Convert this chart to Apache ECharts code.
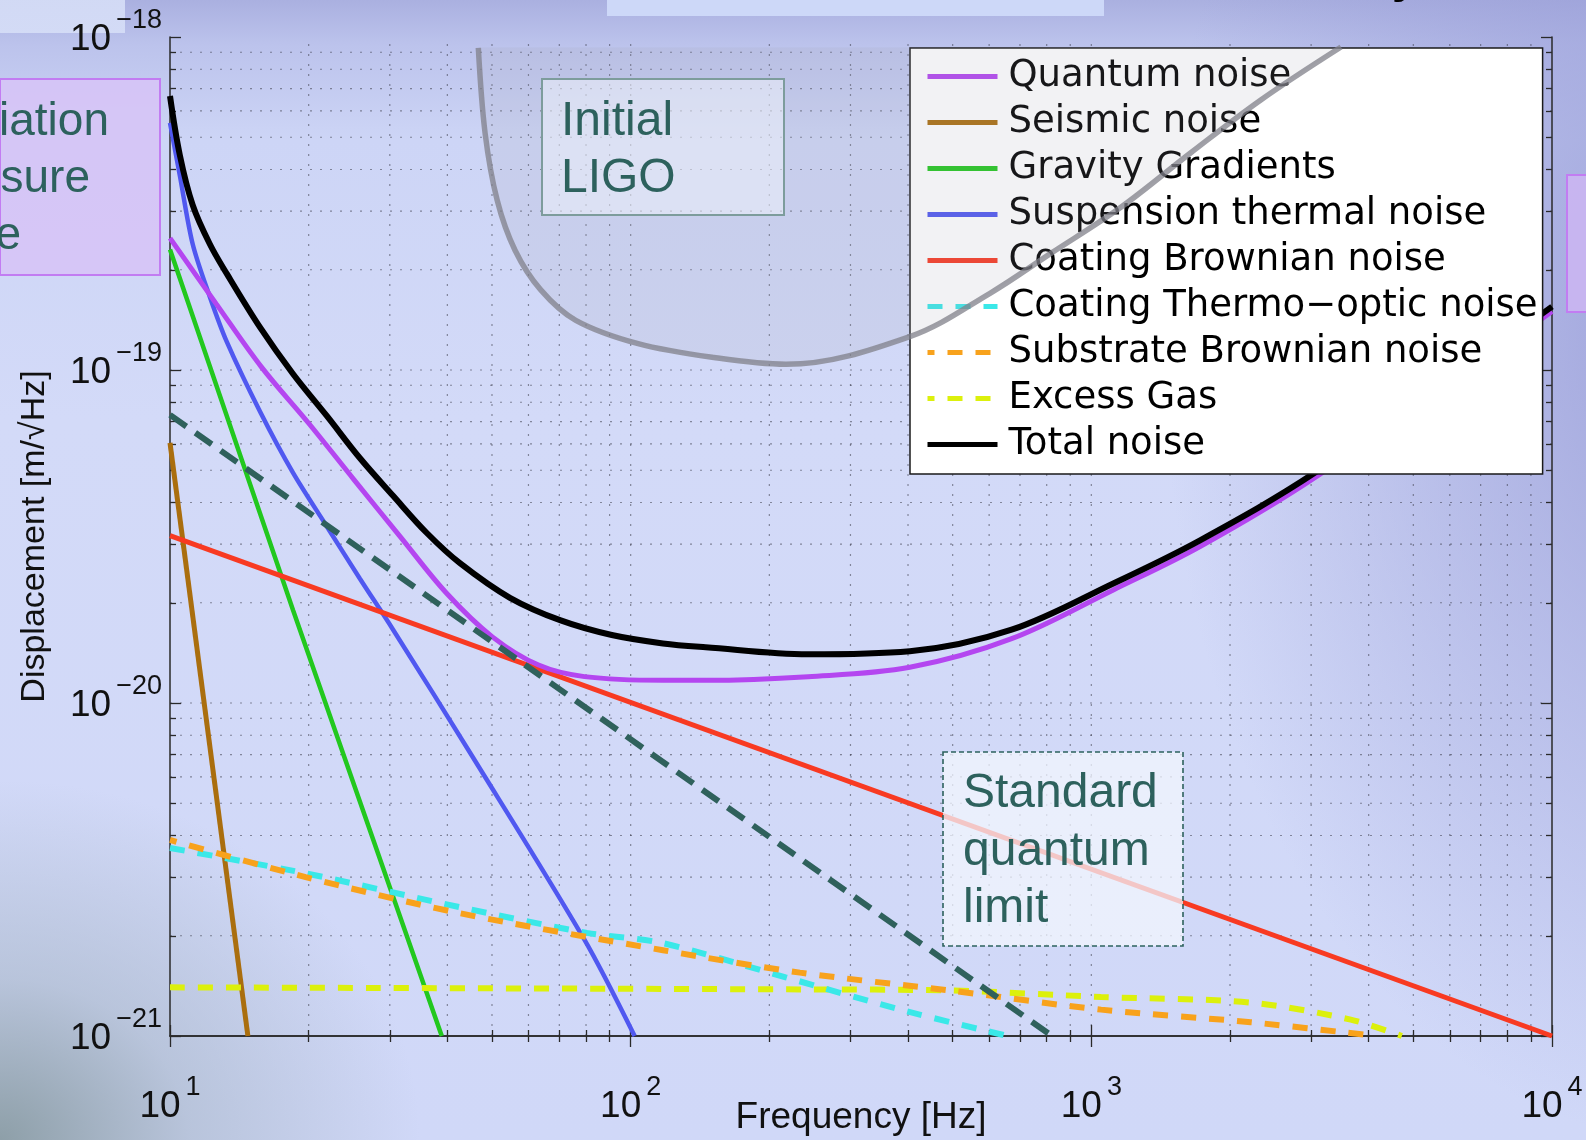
<!DOCTYPE html>
<html>
<head>
<meta charset="utf-8">
<script src="https://cdn.jsdelivr.net/npm/echarts@6/dist/echarts.min.js"></script>
<style>
  html, body { margin: 0; padding: 0; }
  body {
    width: 1586px; height: 1140px; overflow: hidden;
    background:
      linear-gradient(rgba(214,222,247,0.9), rgba(214,222,247,0.9)) 0px 0px / 125px 33px no-repeat,
      linear-gradient(#cdd8f8, #cdd8f8) 607px 0px / 497px 16px no-repeat,
      radial-gradient(ellipse 420px 360px at 0px 1140px, rgba(138,156,164,0.95) 0%, rgba(165,180,196,0.55) 45%, rgba(205,214,244,0) 100%),
      radial-gradient(ellipse 520px 820px at 1680px 320px, rgba(150,154,214,0.85) 0%, rgba(150,154,214,0) 100%),
      linear-gradient(180deg, #aab0e0 0px, #bcc3ec 45px, #cdd5f6 140px, #d3daf8 420px, #d0d8f8 100%);
  }
  #chart { width: 1586px; height: 1140px; }
</style>
</head>
<body>
<div id="chart"></div>
<script>
// axis ticks
const xTickValues = [10, 100, 1000, 10000];
const xTickExps = ['1', '2', '3', '4'];
const yTickValues = [1e-21, 1e-20, 1e-19, 1e-18];
const yTickExps = ['\u221221', '\u221220', '\u221219', '\u221218'];
const minorMult = [2, 3, 4, 5, 6, 7, 8, 9];

// noise curves (frequency in Hz, displacement in m/rtHz)
const quantumF = [10, 12.6, 15.8, 20.0, 25.1, 31.6, 39.8, 50.1, 63.1, 79.4, 117.5, 145.5, 242.7, 403.6, 671.4, 1119, 1722, 3055, 10000];
const quantumV = [2.49e-19, 1.58e-19, 1.02e-19, 6.92e-20, 4.68e-20, 3.16e-20, 2.14e-20, 1.58e-20, 1.30e-20, 1.20e-20, 1.17e-20, 1.17e-20, 1.20e-20, 1.28e-20, 1.56e-20, 2.19e-20, 2.95e-20, 4.75e-20, 1.50e-19];

const seismicF = [10, 14.76];
const seismicV = [6.04e-20, 1e-21];

const gravityF = [10, 18.5, 38.9];
const gravityV = [2.3e-19, 1.9e-20, 1e-21];

const suspF = [10, 10.5, 11.2, 12.2, 13.3, 15.7, 18.5, 21.9, 25.8, 30.5, 45.3, 79.3, 102];
const suspV = [5.52e-19, 3.85e-19, 2.39e-19, 1.66e-19, 1.21e-19, 7.48e-20, 4.91e-20, 3.39e-20, 2.37e-20, 1.66e-20, 6.92e-21, 1.95e-21, 1e-21];

const coatBrF = [10, 10000];
const coatBrV = [3.18e-20, 1e-21];

const thermoF = [10, 19.7, 42.4, 80.4, 117.5, 217, 385, 659];
const thermoV = [3.67e-21, 3.08e-21, 2.44e-21, 2.04e-21, 1.90e-21, 1.50e-21, 1.20e-21, 1.0e-21];

const substrF = [10, 19.7, 42.4, 117.5, 233, 493, 1050, 2218, 4150];
const substrV = [3.88e-21, 3.0e-21, 2.34e-21, 1.81e-21, 1.55e-21, 1.37e-21, 1.20e-21, 1.10e-21, 1.0e-21];

const gasF = [10, 233, 493, 1050, 2218, 3656, 4721];
const gasV = [1.40e-21, 1.38e-21, 1.37e-21, 1.31e-21, 1.26e-21, 1.12e-21, 1.0e-21];

const totalF = [10, 10.5, 11.2, 12.2, 13.3, 15.7, 18.5, 21.9, 25.8, 30.5, 36.1, 42.6, 54.7, 70.5, 91.0, 117.5, 145.5, 242.7, 403.6, 671.4, 1119, 1722, 3055, 10000];
const totalV = [6.65e-19, 4.43e-19, 3.13e-19, 2.39e-19, 1.94e-19, 1.34e-19, 9.73e-20, 7.28e-20, 5.45e-20, 4.19e-20, 3.24e-20, 2.63e-20, 2.07e-20, 1.77e-20, 1.60e-20, 1.51e-20, 1.47e-20, 1.40e-20, 1.43e-20, 1.66e-20, 2.29e-20, 3.08e-20, 4.91e-20, 1.55e-19];

const sqlF = [10, 822];
const sqlV = [7.33e-20, 1e-21];

const ligoF = [46.7, 48.3, 51.3, 56.1, 63.8, 76.0, 103.8, 151.7, 217.3, 403.6, 602.6, 816.6, 1159, 1644, 2333, 3483];
const ligoV = [9.27e-19, 5.15e-19, 3.24e-19, 2.29e-19, 1.74e-19, 1.41e-19, 1.20e-19, 1.09e-19, 1.04e-19, 1.26e-19, 1.70e-19, 2.24e-19, 3.08e-19, 4.49e-19, 6.47e-19, 9.33e-19];
const ligoTop = 9.3e-19;

const legendNames = ['Quantum noise', 'Seismic noise', 'Gravity Gradients', 'Suspension thermal noise',
  'Coating Brownian noise', 'Coating Thermo\u2212optic noise', 'Substrate Brownian noise', 'Excess Gas', 'Total noise'];

const zip = (f, v) => f.map((x, i) => [x, v[i]]);
const FONT = "'Liberation Sans', Arial, Helvetica, sans-serif";
const TEAL = '#2d615d';

const xMinor = [10, 100, 1000].flatMap(d => minorMult.map(m => m * d));
const yMinor = [1e-21, 1e-20, 1e-19].flatMap(d => minorMult.map(m => m * d));
const xMin = xTickValues[0], xMax = xTickValues[3];
const yMin = yTickValues[0], yMax = yTickValues[3];

function nearestIdx(values, v) {
  let best = 0, bd = Infinity;
  values.forEach((t, i) => {
    const d = Math.abs(Math.log10(t) - Math.log10(v));
    if (d < bd) { bd = d; best = i; }
  });
  return best;
}

const richLabel = {
  b: { fontSize: 37, fontFamily: FONT, color: '#111', padding: [14, 0, 0, 0] },
  s: { fontSize: 27, fontFamily: FONT, color: '#111', verticalAlign: 'top', padding: [0, 0, 0, 5] }
};

const frameLine = { show: true, lineStyle: { color: '#2a2a2a', width: 1.5 } };

function xAxisDef(pos, major, withLabel) {
  return {
    type: 'log', logBase: 10, min: xMin, max: xMax, position: pos,
    axisLine: major ? frameLine : { show: false },
    axisTick: { show: true, inside: true, length: major ? 11 : 6,
      customValues: major ? xTickValues : xMinor,
      lineStyle: { color: '#2a2a2a', width: 1.3 } },
    axisLabel: withLabel ? {
      show: true, margin: 38, customValues: xTickValues, rich: richLabel,
      formatter: v => '{b|10}{s|' + xTickExps[nearestIdx(xTickValues, v)] + '}'
    } : { show: false },
    splitLine: { show: false },
    minorTick: { show: false }
  };
}

function yAxisDef(pos, major, withLabel) {
  return {
    type: 'log', logBase: 10, min: yMin, max: yMax, position: pos,
    axisLine: major ? frameLine : { show: false },
    axisTick: { show: true, inside: true, length: major ? 11 : 6,
      customValues: major ? yTickValues : yMinor,
      lineStyle: { color: '#2a2a2a', width: 1.3 } },
    axisLabel: withLabel ? {
      show: true, margin: 8, customValues: yTickValues, rich: richLabel, padding: [0, 0, 8, 0],
      formatter: v => '{b|10}{s|' + yTickExps[nearestIdx(yTickValues, v)] + '}'
    } : { show: false },
    splitLine: { show: false },
    minorTick: { show: false }
  };
}

const xAxes = [
  Object.assign(xAxisDef('bottom', true, true), {
    name: 'Frequency [Hz]', nameLocation: 'middle', nameGap: 63, nameMoveOverlap: false,
    nameTextStyle: { fontSize: 37, fontFamily: FONT, color: '#111' }
  }),
  xAxisDef('bottom', false, false),
  xAxisDef('top', true, false),
  xAxisDef('top', false, false)
];
const yAxes = [
  Object.assign(yAxisDef('left', true, true), {
    name: 'Displacement [m/\u221AHz]', nameLocation: 'middle', nameGap: 118, nameRotate: 90, nameMoveOverlap: false,
    nameTextStyle: { fontSize: 34, fontFamily: FONT, color: '#111' }
  }),
  yAxisDef('left', false, false),
  yAxisDef('right', true, false),
  yAxisDef('right', false, false)
];

function curve(name, f, v, color, width, opts) {
  return Object.assign({
    name: name, type: 'line', data: zip(f, v), symbol: 'none', showSymbol: false,
    lineStyle: { color: color, width: width }, itemStyle: { color: color },
    silent: true, z: 2
  }, opts || {});
}
const dash = [15, 13];

// dotted grid at every major and minor tick, drawn as broken line series
const gridV = [...xTickValues.slice(1, 3), ...xMinor].flatMap(v => [[v, yMin], [v, yMax], ['-', '-']]);
const gridH = [...yTickValues.slice(1, 3), ...yMinor].flatMap(v => [[xMin, v], [xMax, v], ['-', '-']]);
const gridStyle = { color: 'rgba(50,50,62,0.5)', width: 1.2, type: [2, 8] };

const series = [
  { name: 'gridV', type: 'line', data: gridV, symbol: 'none', silent: true, z: 1, connectNulls: false, lineStyle: gridStyle },
  { name: 'gridH', type: 'line', data: gridH, symbol: 'none', silent: true, z: 1, connectNulls: false, lineStyle: gridStyle },
  curve(legendNames[1], seismicF, seismicV, '#aa6e0e', 5),
  curve(legendNames[2], gravityF, gravityV, '#22c81e', 4.5),
  curve(legendNames[3], suspF, suspV, '#5058f0', 4.5, { smooth: 0.3 }),
  curve(legendNames[4], coatBrF, coatBrV, '#f83a22', 5),
  curve(legendNames[7], gasF, gasV, '#dcf00c', 6, { smooth: 0.3, lineStyle: { color: '#dcf00c', width: 6, type: dash } }),
  curve(legendNames[5], thermoF, thermoV, '#3ae8e8', 6, { smooth: 0.3, lineStyle: { color: '#3ae8e8', width: 6, type: dash } }),
  curve(legendNames[6], substrF, substrV, '#f8a21c', 6, { smooth: 0.3, lineStyle: { color: '#f8a21c', width: 6, type: dash, dashOffset: 8 } }),
  curve(legendNames[0], quantumF, quantumV, '#b446f0', 5, { smooth: 0.35 }),
  curve(legendNames[8], totalF, totalV, '#000000', 6, { smooth: 0.35 }),
  curve('Standard quantum limit', sqlF, sqlV, '#2f615c', 6, { lineStyle: { color: '#2f615c', width: 6, type: [20, 11] } }),
  curve('Initial LIGO', ligoF, ligoV, 'rgba(128,128,138,0.75)', 5.5, {
    smooth: 0.35, z: 5,
    areaStyle: { color: 'rgba(165,165,178,0.2)', origin: ligoTop }
  })
];

function boxText(x, y, text, align, size) {
  return { type: 'text', x: x, y: y, z: 11,
    style: { text: text, fontSize: size || 48, fontFamily: FONT, fill: TEAL, align: align || 'left', verticalAlign: 'middle' } };
}

const graphic = [
  { type: 'text', z: 10, x: 1392, y: -21, style: { text: 'y', fontSize: 46, fontWeight: 'bold', fontFamily: FONT, fill: '#000', verticalAlign: 'middle' } },
  // slide boxes at the edges
  { type: 'rect', z: 10, shape: { x: 0, y: 79, width: 160, height: 196 },
    style: { fill: 'rgba(214,196,246,0.9)', stroke: '#c27cf2', lineWidth: 2 } },
  boxText(109, 122, 'Radiation', 'right', 46),
  boxText(90, 179, 'pressure', 'right', 46),
  boxText(21, 236, 'noise', 'right', 46),
  { type: 'rect', z: 10, shape: { x: 1567, y: 175, width: 30, height: 137 },
    style: { fill: 'rgba(204,182,242,0.85)', stroke: '#c27cf2', lineWidth: 2 } },
  // Initial LIGO label
  { type: 'rect', z: 10, shape: { x: 542, y: 79, width: 242, height: 136 },
    style: { fill: 'rgba(236,240,250,0.55)', stroke: '#7d9c9c', lineWidth: 2 } },
  boxText(561, 122, 'Initial'),
  boxText(561, 179, 'LIGO'),
  // Standard quantum limit label
  { type: 'rect', z: 10, shape: { x: 943, y: 752, width: 240, height: 194 },
    style: { fill: 'rgba(242,245,253,0.75)', stroke: TEAL, lineWidth: 1.6, lineDash: [5, 3] } },
  boxText(963, 794, 'Standard'),
  boxText(963, 852, 'quantum'),
  boxText(963, 909, 'limit')
];

const chart = echarts.init(document.getElementById('chart'), null, { renderer: 'canvas' });
chart.setOption({
  animation: false,
  backgroundColor: 'transparent',
  grid: { left: 170, right: 34, top: 37, bottom: 104, containLabel: false, outerBoundsMode: 'none' },
  xAxis: xAxes,
  yAxis: yAxes,
  legend: {
    data: legendNames, orient: 'vertical', left: 910, top: 48,
    backgroundColor: '#ffffff', borderColor: '#1a1a1a', borderWidth: 1.5, borderRadius: 0,
    padding: [10, 5, 11, 15], itemGap: 9, itemWidth: 70, itemHeight: 14,
    lineStyle: { width: 5 },
    itemStyle: { opacity: 0 },
    selectedMode: false, z: 4,
    textStyle: { fontFamily: "'DejaVu Sans', sans-serif", fontSize: 37, color: '#000', lineHeight: 36, padding: [0, 0, 0, 6] }
  },
  graphic: graphic,
  series: series
});
</script>
</body>
</html>
